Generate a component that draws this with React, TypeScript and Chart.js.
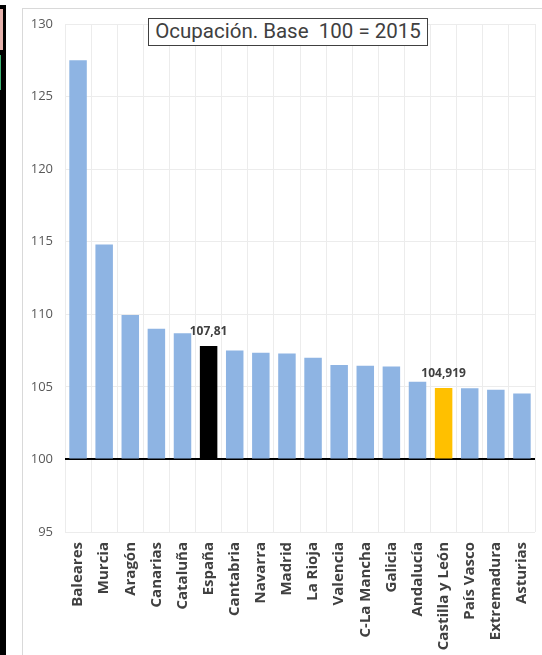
import React, { useEffect, useRef } from "react";
import { Chart, registerables } from "chart.js";

Chart.register(...registerables);

const categories = [
  "Baleares", "Murcia", "Aragón", "Canarias", "Cataluña", "España", "Cantabria",
  "Navarra", "Madrid", "La Rioja", "Valencia", "C-La Mancha", "Galicia",
  "Andalucía", "Castilla y León", "País Vasco", "Extremadura", "Asturias",
];
const values = [
  127.5, 114.8, 109.95, 109.0, 108.7, 107.81, 107.5,
  107.35, 107.3, 107.0, 106.5, 106.45, 106.4,
  105.36, 104.919, 104.9, 104.8, 104.55,
];
const valueLabels = ["", "", "", "", "", "107,81", "", "", "", "", "", "", "", "", "104,919", "", "", ""];
const yTicks = [95, 100, 105, 110, 115, 120, 125, 130];
const titleText = "Ocupación. Base  100 = 2015";
const baseValue = 100;

const BAR_COLOR = "#8EB4E3";
const HIGHLIGHT: Record<string, string> = { "España": "#000000", "Castilla y León": "#FFC000" };

const labelPlugin = {
  id: "valueLabels",
  afterDatasetsDraw(chart: any) {
    const meta = chart.getDatasetMeta(0);
    const ctx = chart.ctx;
    ctx.save();
    ctx.font = 'bold 12px "Open Sans"';
    ctx.fillStyle = "#404040";
    ctx.textAlign = "center";
    ctx.textBaseline = "alphabetic";
    valueLabels.forEach((t, i) => {
      if (!t) return;
      const el = meta.data[i];
      ctx.fillText(t, el.x, el.y - 11);
    });
    ctx.restore();
  },
};

export default function App() {
  const ref = useRef<HTMLCanvasElement>(null);
  useEffect(() => {
    if (!ref.current) return;
    const chart = new Chart(ref.current, {
      type: "bar",
      data: {
        labels: categories,
        datasets: [
          {
            data: values,
            base: baseValue,
            backgroundColor: categories.map((c) => HIGHLIGHT[c] || BAR_COLOR),
            barPercentage: 0.67,
            categoryPercentage: 1,
            borderWidth: 0,
          },
        ],
      },
      options: {
        animation: false,
        responsive: false,
        maintainAspectRatio: false,
        layout: { padding: { left: 0, right: 7, top: 15, bottom: 0 } },
        plugins: { legend: { display: false }, tooltip: { enabled: false }, title: { display: false } },
        scales: {
          x: {
            grid: { color: "#ececec", lineWidth: 1, drawTicks: false, offset: true },
            border: { display: false },
            ticks: {
              minRotation: 90,
              maxRotation: 90,
              padding: 10,
              color: "#404040",
              font: { family: '"Open Sans"', size: 15, weight: "bold" },
              autoSkip: false,
            },
            afterFit(scale: any) {
              scale.height = 123;
              scale.paddingLeft = 0;
              scale.paddingRight = 0;
            },
          },
          y: {
            min: 95,
            max: 130,
            afterBuildTicks(scale: any) {
              scale.ticks = yTicks.map((v) => ({ value: v }));
            },
            grid: {
              drawTicks: false,
              color: (c: any) => (c.tick && c.tick.value === baseValue ? "#000000" : "#ececec"),
              lineWidth: (c: any) => (c.tick && c.tick.value === baseValue ? 2 : 1),
            },
            border: { display: false },
            ticks: {
              padding: 12,
              color: "#595959",
              font: { family: '"Open Sans"', size: 13 },
            },
            afterFit(scale: any) {
              scale.width = 42;
              scale.paddingTop = 0;
              scale.paddingBottom = 0;
            },
          },
        },
      },
      plugins: [labelPlugin],
    });
    return () => chart.destroy();
  }, []);

  return (
    <div style={{ position: "fixed", left: 0, top: 0, width: 542, height: 655, background: "#fff", overflow: "hidden" }}>
      <div style={{ position: "absolute", left: 0, top: 5, width: 6, height: 650, background: "#000" }} />
      <div style={{ position: "absolute", left: 0, top: 9, width: 3, height: 41, background: "#e6b3ad" }} />
      <div style={{ position: "absolute", left: 0, top: 55, width: 1, height: 35, background: "#3cb371" }} />
      <div
        style={{
          position: "absolute",
          left: 22,
          top: 8,
          width: 520,
          height: 647,
          borderLeft: "1px solid #d9d9d9",
          borderTop: "1px solid #d9d9d9",
          boxSizing: "border-box",
        }}
      />
      <canvas ref={ref} width={519} height={646} style={{ position: "absolute", left: 23, top: 9, width: 519, height: 646 }} />
      <div
        style={{
          position: "absolute",
          left: 148,
          top: 18,
          width: 280,
          height: 28,
          boxSizing: "border-box",
          border: "1.5px solid #404040",
          background: "#fff",
          fontFamily: "Roboto",
          fontSize: 20.5,
          color: "#404040",
          textAlign: "center",
          lineHeight: "25px",
          whiteSpace: "pre",
        }}
      >
        {titleText}
      </div>
    </div>
  );
}
